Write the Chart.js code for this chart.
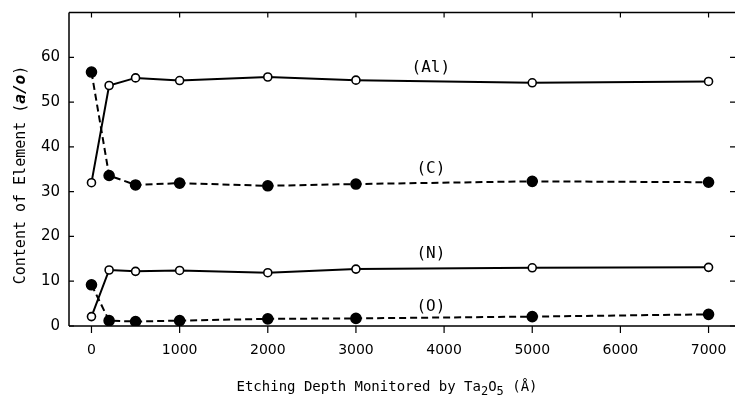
<!DOCTYPE html>
<html>
<head>
<meta charset="utf-8">
<script src="https://cdn.jsdelivr.net/npm/chart.js@4.4.1/dist/chart.umd.min.js"></script>
<style>
  body { margin: 0; background: #fff; }
  #wrap { width: 735px; height: 400px; }
</style>
</head>
<body>
<div id="wrap"><canvas id="myChart"></canvas></div>
<script>
const depths = [0, 200, 500, 1000, 2000, 3000, 5000, 7000];
const alValues = [32.0, 53.7, 55.4, 54.8, 55.6, 54.9, 54.3, 54.6];
const cValues = [56.7, 33.6, 31.5, 31.9, 31.3, 31.7, 32.3, 32.1];
const nValues = [2.1, 12.5, 12.2, 12.4, 11.9, 12.7, 13.0, 13.1];
const oValues = [9.2, 1.2, 1.0, 1.2, 1.6, 1.7, 2.1, 2.6];
const xTicks = [0, 1000, 2000, 3000, 4000, 5000, 6000, 7000];
const yTicks = [0, 10, 20, 30, 40, 50, 60];
// series labels: text, x, y in data units
const seriesLabels = [
  ['(Al)', 3850, 57.6],
  ['(C)', 3850, 35.0],
  ['(N)', 3850, 16.1],
  ['(O)', 3850, 4.25]
];

const mono = '"DejaVu Sans Mono", monospace';
const ctx = document.getElementById('myChart').getContext('2d');

function pts(vals) {
  return depths.map((d, i) => ({ x: d, y: vals[i] }));
}

function series(label, vals, filled) {
  return {
    label: label,
    data: pts(vals),
    showLine: true,
    borderColor: '#000',
    borderWidth: 2,
    borderDash: filled ? [7, 4] : [],
    pointRadius: filled ? 5 : 4,
    pointBackgroundColor: filled ? '#000' : '#fff',
    pointBorderColor: '#000',
    pointBorderWidth: 1.6,
    tension: 0
  };
}

const decor = {
  id: 'decor',
  afterDraw(chart) {
    const c = chart.ctx;
    const a = chart.chartArea;
    const xs = chart.scales.x, ys = chart.scales.y;
    c.save();
    c.strokeStyle = '#000';
    c.lineWidth = 1.5;
    // frame: left, bottom, top
    c.beginPath();
    c.moveTo(a.left, a.top); c.lineTo(a.right, a.top);
    c.moveTo(a.left, a.top); c.lineTo(a.left, a.bottom);
    c.moveTo(a.left, a.bottom); c.lineTo(a.right, a.bottom);
    c.stroke();
    c.lineWidth = 1.2;
    c.beginPath();
    xTicks.forEach(v => {
      const px = xs.getPixelForValue(v);
      c.moveTo(px, a.bottom); c.lineTo(px, a.bottom + 7);
      c.moveTo(px, a.top); c.lineTo(px, a.top + 5);
    });
    yTicks.concat([70]).forEach(v => {
      const py = ys.getPixelForValue(v);
      c.moveTo(a.left, py); c.lineTo(a.left + 5, py);
      c.moveTo(a.right, py); c.lineTo(a.right - 5, py);
    });
    c.stroke();

    // series labels
    c.fillStyle = '#000';
    c.font = '16px ' + mono;
    c.textAlign = 'center';
    c.textBaseline = 'middle';
    seriesLabels.forEach(([t, x, y]) => {
      c.fillText(t, xs.getPixelForValue(x), ys.getPixelForValue(y));
    });

    // x axis title with subscripts
    c.textAlign = 'left';
    c.textBaseline = 'alphabetic';
    const parts = [
      ['Etching Depth Monitored by Ta', 0],
      ['2', 4],
      ['O', 0],
      ['5', 4],
      [' (Å)', 0]
    ];
    let total = 0;
    parts.forEach(([t, s]) => {
      c.font = (s ? '12px ' : '14px ') + mono;
      total += c.measureText(t).width;
    });
    let x = 387 - total / 2;
    const base = 391;
    parts.forEach(([t, s]) => {
      c.font = (s ? '12px ' : '14px ') + mono;
      c.fillText(t, x, base + s);
      x += c.measureText(t).width;
    });

    // y axis title, rotated
    c.translate(25, 175);
    c.rotate(-Math.PI / 2);
    const yparts = [
      ['Content of Element (', '15px ' + mono],
      ['a/o', 'italic bold 16px ' + mono],
      [')', '15px ' + mono]
    ];
    total = 0;
    yparts.forEach(([t, f]) => { c.font = f; total += c.measureText(t).width; });
    x = -total / 2;
    yparts.forEach(([t, f]) => {
      c.font = f;
      c.fillText(t, x, 0);
      x += c.measureText(t).width;
    });
    c.restore();
  }
};

new Chart(ctx, {
  type: 'scatter',
  data: {
    datasets: [
      series('Al', alValues, false),
      series('C', cValues, true),
      series('N', nValues, false),
      series('O', oValues, true)
    ]
  },
  options: {
    responsive: true,
    maintainAspectRatio: false,
    animation: false,
    layout: { autoPadding: false, padding: { left: 0, right: 0, top: 12.5, bottom: 0 } },
    plugins: {
      legend: { display: false },
      tooltip: { enabled: false }
    },
    scales: {
      x: {
        type: 'linear',
        min: -255,
        max: 7300,
        afterBuildTicks: s => { s.ticks = xTicks.map(v => ({ value: v })); },
        afterFit: s => { s.height = 74; s.paddingLeft = 0; s.paddingRight = 0; },
        grid: { display: false, drawTicks: false },
        border: { display: false },
        ticks: {
          color: '#000',
          padding: 16,
          callback: v => String(v),
          font: { family: '"DejaVu Sans", sans-serif', size: 14 }
        }
      },
      y: {
        min: 0,
        max: 70,
        afterBuildTicks: s => { s.ticks = yTicks.map(v => ({ value: v })); },
        afterFit: s => { s.width = 69; s.paddingTop = 0; s.paddingBottom = 0; },
        grid: { display: false, drawTicks: false },
        border: { display: false },
        ticks: {
          color: '#000',
          padding: 9,
          callback: v => String(v),
          font: { family: '"DejaVu Sans", sans-serif', size: 15 }
        }
      }
    }
  },
  plugins: [decor]
});
</script>
</body>
</html>
